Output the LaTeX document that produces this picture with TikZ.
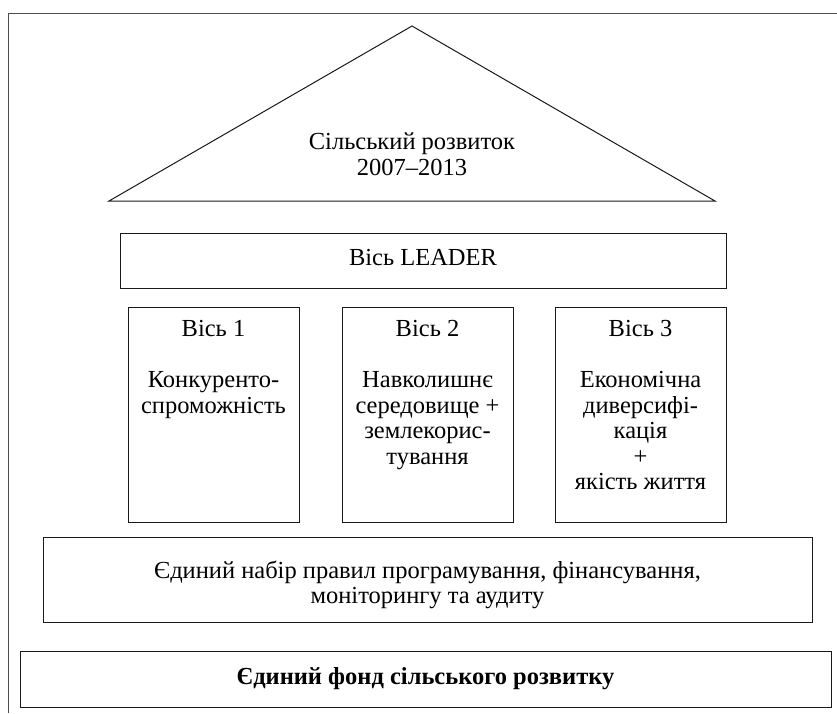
\documentclass[tikz,border=0pt]{standalone}
\usepackage{fontspec}
\setmainfont{Liberation Serif}
\begin{document}
\begin{tikzpicture}[x=1pt,y=-1pt,
  box/.style={draw=black!90,line width=1pt,inner sep=0pt},
  txt/.style={align=center,inner sep=0pt,font=\fontsize{24.5}{25.6}\selectfont}]
\useasboundingbox (0,0) rectangle (837,713);
% outer frame
\coordinate (ftr) at (837,13);
\coordinate (ftl) at (8,13);
\coordinate (fbl) at (8,713);
\draw[line width=1pt,draw=black!70] (ftr) -- (ftl) -- (fbl);
% roof
\coordinate (apex) at (412,26);
\coordinate (bl) at (109,201);
\coordinate (br) at (715,201);
\draw[line width=1pt,draw=black!90] (apex) -- (bl) -- (br) -- cycle;
\node[txt] (roof) at (412,154) {Сільський розвиток\\2007–2013};
% LEADER
\node[box,minimum width=606pt,minimum height=55pt] (leader) at (423,260.5) {};
\node[txt] (leadert) at (423,258) {Вісь LEADER};
% axes
\node[box,minimum width=171pt,minimum height=215pt] (a1) at (213.5,414.5) {};
\node[box,minimum width=171pt,minimum height=215pt] (a2) at (427.5,414.5) {};
\node[box,minimum width=171pt,minimum height=215pt] (a3) at (640.5,414.5) {};
\node[txt,anchor=north] (a1t) at (213.5,320) {Вісь 1\\[25.5pt]Конкуренто-\\спроможність};
\node[txt,anchor=north] (a2t) at (427.5,320) {Вісь 2\\[25.5pt]Навколишнє\\середовище +\\землекорис-\\тування};
\node[txt,anchor=north] (a3t) at (640.5,320) {Вісь 3\\[25.5pt]Економічна\\диверсифі-\\кація\\+\\якість життя};
% rules
\node[box,minimum width=769pt,minimum height=85pt] (rules) at (427.5,579.5) {};
\node[txt] (rulest) at (427.5,585) {Єдиний набір правил програмування, фінансування,\\моніторингу та аудиту};
% fund
\node[box,minimum width=811pt,minimum height=56pt] (fund) at (425.5,679) {};
\node[txt,font=\fontsize{24.5}{25.6}\selectfont\bfseries] (fundt) at (425.5,679) {Єдиний фонд сільського розвитку};
\end{tikzpicture}
\end{document}
